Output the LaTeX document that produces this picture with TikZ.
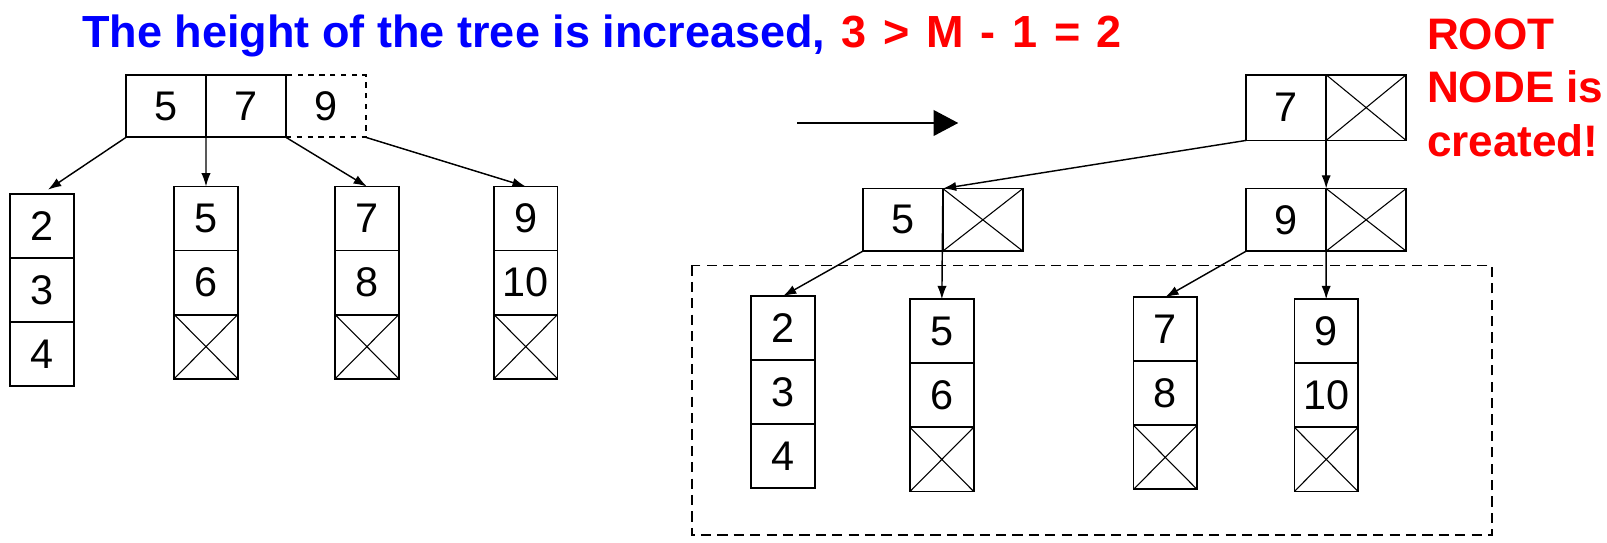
\documentclass[tikz,border=0pt]{standalone}
\usepackage{fontspec}
\setmainfont{Liberation Sans}
\usetikzlibrary{arrows.meta}
\definecolor{headblue}{RGB}{0,0,255}
\definecolor{headred}{RGB}{255,0,0}
\begin{document}
\begin{tikzpicture}[x=0.02cm,y=-0.02cm,
  cell/.style={draw,line width=1pt,inner sep=0pt,outer sep=0pt,anchor=north west,
    font=\fontsize{23pt}{27pt}\selectfont},
  keycell/.style={cell,minimum width=1.56cm,minimum height=1.23cm},
  leafcell/.style={cell,minimum width=1.24cm,minimum height=1.25cm},
  crossed/.style={path picture={\draw[line width=0.6pt]
      (path picture bounding box.north west) -- (path picture bounding box.south east)
      (path picture bounding box.north east) -- (path picture bounding box.south west);}},
  link/.style={line width=0.8pt,-{Latex[length=0.26cm,width=0.18cm]}},
  headline/.style={inner sep=0pt,font=\fontsize{25pt}{29.6pt}\selectfont\bfseries},
]
\useasboundingbox (0,0) rectangle (1568,529);

% heading
\node[headline,anchor=base west] (title) at (80,46.5)
  {\textcolor{headblue}{The height of the tree is increased,}{\spaceskip=0.37em\relax\ \textcolor{headred}{3 > M - 1 = 2}}};
\node[headline,anchor=north west,align=left,text=headred,font=\fontsize{24.5pt}{29.6pt}\selectfont\bfseries] (rootnote) at (1392,18)
  {ROOT\\NODE is\\created!};

% ---- before the split: overfull node 5 7 9 ----
\node[keycell,minimum height=1.22cm] (t5) at (123,73) {5};
\node[keycell,minimum height=1.22cm] (t7) at (t5.north east) {7};
\node[keycell,minimum height=1.22cm,dashed] (t9) at (t7.north east) {9};

\node[leafcell] (a2) at (10,189) {2};
\node[leafcell] (a3) at (a2.south west) {3};
\node[leafcell] (a4) at (a3.south west) {4};

\node[leafcell] (b5) at (170,182) {5};
\node[leafcell] (b6) at (b5.south west) {6};
\node[leafcell,crossed] (bx) at (b6.south west) {};

\node[leafcell] (c7) at (327,182) {7};
\node[leafcell] (c8) at (c7.south west) {8};
\node[leafcell,crossed] (cx) at (c8.south west) {};

\node[leafcell] (d9) at (482,182) {9};
\node[leafcell] (d10) at (d9.south west) {10};
\node[leafcell,crossed] (dx) at (d10.south west) {};

\draw[link,shorten >=0.14cm] (t5.south west) -- (a2.north);
\draw[link] (t5.north east) -- (b5.north);
\draw[link] (t7.south east) -- (c7.north);
\draw[link] (t9.south east) -- (d9.north);

% transition arrow
\coordinate (gofrom) at (778,120);
\coordinate (goto) at (935,120);
\draw[line width=1pt,-{Triangle[length=0.48cm,width=0.5cm]}] (gofrom) -- (goto);

% ---- after the split: new root ----
\node[keycell,minimum height=1.28cm] (r7) at (1216,73) {7};
\node[keycell,minimum height=1.28cm,crossed] (rx) at (r7.north east) {};

\node[keycell,minimum height=1.22cm] (n5) at (842,184) {5};
\node[keycell,minimum height=1.22cm,crossed] (n5x) at (n5.north east) {};

\node[keycell,minimum height=1.22cm] (n9) at (1216,184) {9};
\node[keycell,minimum height=1.22cm,crossed] (n9x) at (n9.north east) {};

\draw[dashed,line width=1pt,dash pattern=on 0.2cm off 0.12cm] (675,259) rectangle (1456,522);

\node[leafcell] (e2) at (733,289) {2};
\node[leafcell] (e3) at (e2.south west) {3};
\node[leafcell] (e4) at (e3.south west) {4};

\node[leafcell] (f5) at (888,292) {5};
\node[leafcell] (f6) at (f5.south west) {6};
\node[leafcell,crossed] (fx) at (f6.south west) {};

\node[leafcell] (g7) at (1106,290) {7};
\node[leafcell] (g8) at (g7.south west) {8};
\node[leafcell,crossed] (gx) at (g8.south west) {};

\node[leafcell] (h9) at (1263,292) {9};
\node[leafcell] (h10) at (h9.south west) {10};
\node[leafcell,crossed] (hx) at (h10.south west) {};

\draw[link] (r7.south west) -- (n5.north east);
\draw[link] (r7.north east) -- (n9.north east);
\draw[link] (n5.south west) -- (e2.north);
\draw[link] (n5.north east) -- (f5.north);
\draw[link] (n9.south west) -- (g7.north);
\draw[link] (n9.north east) -- (h9.north);
\end{tikzpicture}
\end{document}
